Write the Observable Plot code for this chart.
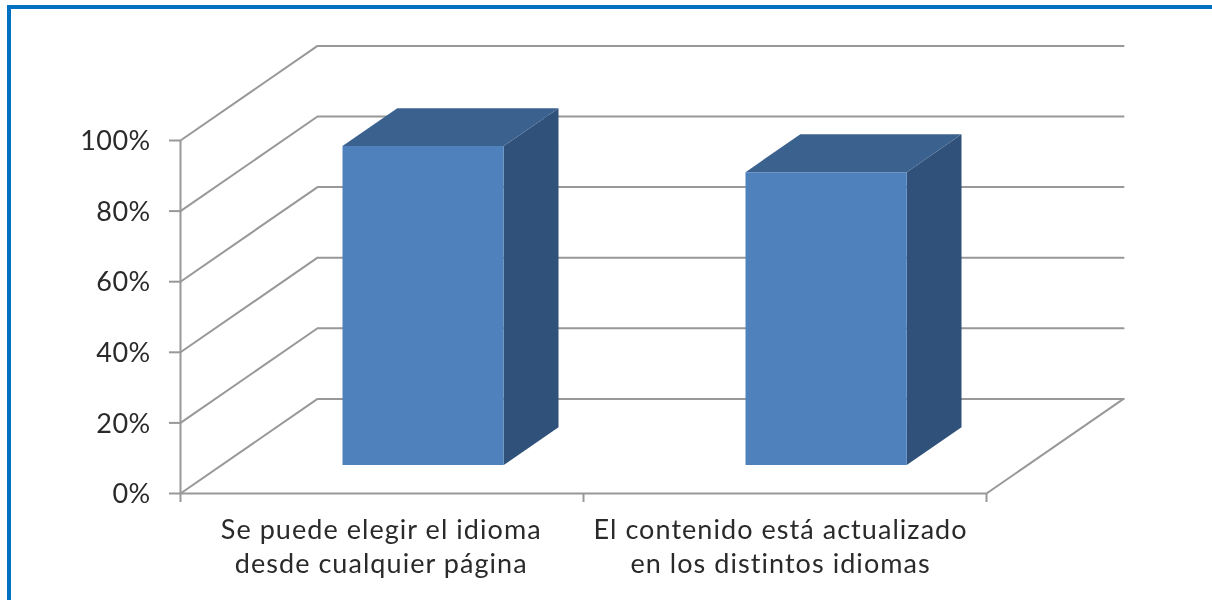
<!DOCTYPE html>
<html>
<head>
<meta charset="utf-8">
<script src="https://cdn.jsdelivr.net/npm/d3@7"></script>
<script src="https://cdn.jsdelivr.net/npm/@observablehq/plot@0.6"></script>
<style>
  html, body { margin: 0; padding: 0; background: #fff; overflow: hidden; }
  #page { position: relative; width: 1212px; height: 600px; overflow: hidden; }
  #frame { position: absolute; left: 7px; top: 5px; right: -10px; bottom: -10px;
           border-left: 4px solid #0070C0; border-top: 4px solid #0070C0; }
  #chart { position: absolute; left: 0; top: 0; filter: blur(0.4px); }
  #chart svg { display: block; }
  #chart g[aria-label="x-axis tick label"] text { letter-spacing: 1.05px; }
  #chart g[aria-label="y-axis tick label"] text { letter-spacing: 0.4px; }
</style>
</head>
<body>
<div id="page"><div id="frame"></div><div id="chart"></div></div>
<script>
const categories = ["Se puede elegir el idioma\ndesde cualquier página", "El contenido está actualizado\nen los distintos idiomas"];
const values = [90.4, 83];
const yTicks = [0, 20, 40, 60, 80, 100];
const categoryEdges = [0, 1, 2];
const categoryCenters = [0.5, 1.5];
const labelCenters = [0.498, 1.489];

// oblique projection of the third (depth) axis, in data units per unit of depth
const depthX = 0.34, depthY = 26.8;
const barHalf = 0.2, zFront = 0.3, zBack = 0.7;
const project = (c, v, z) => ({x: c + z * depthX, y: v + z * depthY});

const wallLines = yTicks.flatMap(v => [
  {...project(0, v, 0), id: v},
  {...project(0, v, 1), id: v},
  {...project(2, v, 1), id: v}
]);
const floorEdge = [project(2, 0, 0), project(2, 0, 1)];

const face = (fn) => values.flatMap((v, i) => fn(categoryCenters[i] - barHalf, categoryCenters[i] + barHalf, v).map(p => ({...p, id: i})));
const frontFaces = face((a, b, v) => [project(a, 0, zFront), project(b, 0, zFront), project(b, v, zFront), project(a, v, zFront)]);
const sideFaces = face((a, b, v) => [project(b, 0, zFront), project(b, 0, zBack), project(b, v, zBack), project(b, v, zFront)]);
const topFaces = face((a, b, v) => [project(a, v, zFront), project(b, v, zFront), project(b, v, zBack), project(a, v, zBack)]);

const gridColor = "#989898", textColor = "#2a2a2a";
const xy = {x: "x", y: "y", z: "id"};

const chart = Plot.plot({
  width: 1212, height: 600,
  marginLeft: 180, marginRight: 226, marginTop: 140, marginBottom: 107,
  style: {background: "transparent", fontFamily: "Lato, sans-serif"},
  x: {domain: [0, 2]},
  y: {domain: [0, 100]},
  marks: [
    Plot.line(wallLines, {...xy, stroke: gridColor, strokeWidth: 2}),
    Plot.line(floorEdge, {x: "x", y: "y", stroke: gridColor, strokeWidth: 2}),
    Plot.ruleX([0], {y1: 0, y2: 100, stroke: gridColor, strokeWidth: 2}),
    Plot.ruleY([0], {x1: 0, x2: 2, stroke: gridColor, strokeWidth: 2}),
    Plot.line(sideFaces, {...xy, fill: "#30527A", stroke: "none"}),
    Plot.line(topFaces, {...xy, fill: "#3B628F", stroke: "none"}),
    Plot.line(frontFaces, {...xy, fill: "#4F81BD", stroke: "none"}),
    Plot.axisY({ticks: yTicks, tickSize: 11, text: null, label: null, stroke: gridColor, strokeWidth: 2}),
    Plot.axisY({ticks: yTicks, tickSize: 0, tickPadding: 30, dy: 1, tickFormat: d => d + "%", fontSize: 27, label: null, color: textColor}),
    Plot.axisX({ticks: categoryEdges, tickSize: 9, text: null, label: null, stroke: gridColor, strokeWidth: 2}),
    Plot.axisX({ticks: labelCenters, tickSize: 0, tickPadding: 20, dy: 1, tickFormat: (d, i) => categories[i], fontSize: 27,
      lineHeight: 1.27, label: null, color: textColor})
  ]
});
document.getElementById("chart").appendChild(chart);
</script>
</body>
</html>
